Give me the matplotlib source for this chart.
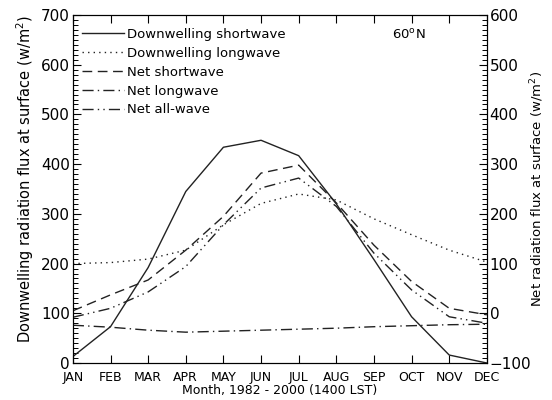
import matplotlib
matplotlib.use("Agg")
import matplotlib.pyplot as plt
from matplotlib.ticker import MultipleLocator

months = ['JAN', 'FEB', 'MAR', 'APR', 'MAY', 'JUN',
          'JUL', 'AUG', 'SEP', 'OCT', 'NOV', 'DEC']

# left axis (W/m2)
down_sw = [13, 73, 192, 345, 434, 448, 417, 320, 208, 93, 16, 0]
down_lw = [200, 202, 209, 227, 278, 321, 340, 328, 290, 258, 227, 203]
# right axis (W/m2)
net_sw = [5, 37, 67, 127, 195, 282, 298, 222, 137, 64, 10, -3]
net_lw = [-24, -28, -34, -38, -36, -34, -32, -30, -27, -25, -23, -22]
net_all = [-8, 10, 43, 94, 178, 252, 272, 215, 121, 47, -7, -20]

x = list(range(len(months)))
fig = plt.figure(figsize=(5.52, 4.0), dpi=100)
ax = fig.add_axes([0.132, 0.0925, 0.75, 0.87])
ax2 = ax.twinx()

c = '#222222'
lw = 1.0
l1, = ax.plot(x, down_sw, color=c, lw=lw, ls='-', label='Downwelling shortwave')
l2, = ax.plot(x, down_lw, color=c, lw=lw, ls=(0, (1, 3)), label='Downwelling longwave')
l3, = ax2.plot(x, net_sw, color=c, lw=lw, ls=(0, (7, 4)), label='Net shortwave')
l4, = ax2.plot(x, net_lw, color=c, lw=lw, ls=(0, (8, 3, 1, 3)), label='Net longwave')
l5, = ax2.plot(x, net_all, color=c, lw=lw, ls=(0, (8, 3, 1, 3, 1, 3)), label='Net all-wave')

ax.set_xlim(0, 11)
ax.set_ylim(0, 700)
ax2.set_ylim(-100, 600)
ax.set_xticks(x)
ax.set_xticklabels(months, fontsize=9)
ax.yaxis.set_major_locator(MultipleLocator(100))
ax.yaxis.set_minor_locator(MultipleLocator(10))
ax2.yaxis.set_major_locator(MultipleLocator(100))
ax2.yaxis.set_minor_locator(MultipleLocator(10))
ax.tick_params(axis='x', direction='in', top=True, length=6, width=0.8, pad=6)
ax.tick_params(axis='y', which='major', direction='in', length=6, labelsize=11, pad=2)
ax.tick_params(axis='y', which='minor', direction='in', length=3.5, width=0.7)
ax2.tick_params(axis='y', which='major', direction='in', length=6, labelsize=11, pad=2)
ax2.tick_params(axis='y', which='minor', direction='in', length=3.5, width=0.7)

ax.set_ylabel('Downwelling radiation flux at surface (w/m$^2$)', fontsize=10.5)
ax.yaxis.set_label_coords(-0.09, 0.53)
ax2.set_ylabel('Net radiation flux at surface (w/m$^2$)', fontsize=9.5)
ax2.yaxis.set_label_coords(1.10, 0.5)
ax.set_xlabel('Month, 1982 - 2000 (1400 LST)', fontsize=9, labelpad=0)

ax.text(0.77, 0.93, '60$^\\mathrm{o}$N', transform=ax.transAxes, fontsize=9.5)

ax.legend(handles=[l1, l2, l3, l4, l5], loc='upper left', frameon=False,
          fontsize=9.5, handlelength=3.2, handletextpad=0.2, labelspacing=0.45,
          borderaxespad=0.3, bbox_to_anchor=(0.0, 0.99))

fig.savefig('out.png', dpi=100)
